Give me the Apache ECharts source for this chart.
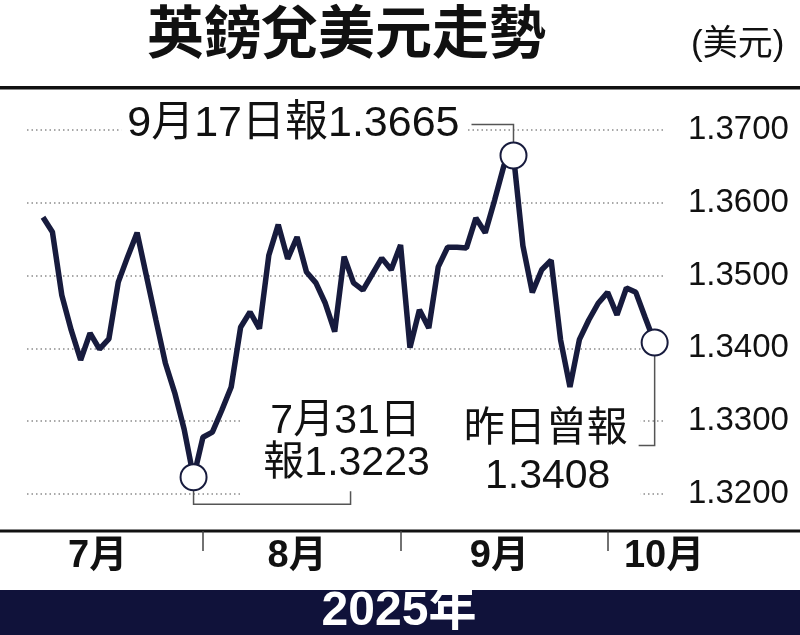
<!DOCTYPE html>
<html><head><meta charset="utf-8">
<script src="https://cdn.jsdelivr.net/npm/echarts@6/dist/echarts.min.js"></script>
<style>html,body{margin:0;padding:0;background:#fff}#c{width:800px;height:635px}</style>
</head><body><div id="c"></div>
<script>
// ---- data ----
const dates = [
 '2025-07-09','2025-07-10','2025-07-11','2025-07-14','2025-07-15','2025-07-16','2025-07-17','2025-07-18',
 '2025-07-21','2025-07-22','2025-07-23','2025-07-24','2025-07-25','2025-07-28','2025-07-29','2025-07-30','2025-07-31',
 '2025-08-01','2025-08-04','2025-08-05','2025-08-06','2025-08-07','2025-08-08','2025-08-11','2025-08-12','2025-08-13',
 '2025-08-14','2025-08-15','2025-08-18','2025-08-19','2025-08-20','2025-08-21','2025-08-22','2025-08-25','2025-08-26',
 '2025-08-27','2025-08-28','2025-08-29',
 '2025-09-01','2025-09-02','2025-09-03','2025-09-04','2025-09-05','2025-09-08','2025-09-09','2025-09-10','2025-09-11',
 '2025-09-12','2025-09-15','2025-09-16','2025-09-17','2025-09-18','2025-09-19','2025-09-22','2025-09-23','2025-09-24',
 '2025-09-25','2025-09-26','2025-09-29','2025-09-30',
 '2025-10-01','2025-10-02','2025-10-03','2025-10-06','2025-10-07','2025-10-08'
];
const gbpusd = [
 1.3580,1.3560,1.3473,1.3425,1.3384,1.3421,1.3399,1.3413,
 1.3491,1.3526,1.3559,1.3499,1.3439,1.3380,1.3339,1.3289,1.3223,
 1.3278,1.3285,1.3315,1.3347,1.3429,1.3450,1.3427,1.3528,1.3570,
 1.3523,1.3553,1.3505,1.3490,1.3462,1.3423,1.3526,1.3490,1.3480,
 1.3502,1.3524,1.3508,
 1.3542,1.3401,1.3453,1.3428,1.3512,1.3539,1.3539,1.3538,1.3579,
 1.3559,1.3604,1.3652,1.3665,1.3541,1.3477,1.3508,1.3521,1.3412,
 1.3347,1.3412,1.3439,1.3462,
 1.3477,1.3446,1.3483,1.3477,1.3442,1.3408
];
const yMin = 1.32, yMax = 1.37, yStep = 0.01;
const monthNames = ['7月','8月','9月','10月'];
const titleText = '英鎊兌美元走勢';
const unitText = '(美元)';
const yearText = '2025年';
const notePeak = {date:'2025-09-17', lines:['9月17日報1.3665']};
const noteLow  = {date:'2025-07-31', lines:['7月31日','報1.3223']};
const noteLast = {date:'2025-10-08', lines:['昨日曾報','1.3408']};

// ---- layout (not data) ----
const monthLabelAt = [5.8, 27, 48.5, 66];
const FONT = '"Liberation Sans","Noto Sans CJK TC",sans-serif';
const NAVY = '#171b3d';

const monthStarts = dates.map((d,i)=> (i>0 && d.slice(5,7)!==dates[i-1].slice(5,7)) ? i : null).filter(v=>v!==null);
const idxOf = d => dates.indexOf(d);

const chart = echarts.init(document.getElementById('c'));
chart.setOption({
  animation:false,
  backgroundColor:'#fff',
  title:[
    {text:titleText,left:147,top:0,padding:0,textStyle:{fontSize:57,lineHeight:62,fontWeight:'bold',fontFamily:'"Noto Sans CJK TC",sans-serif',color:'#111'}},
    {text:unitText,left:691,top:26,padding:0,textStyle:{fontSize:35,lineHeight:38,fontWeight:'normal',fontFamily:FONT,color:'#111'}}
  ],
  grid:{left:27,right:135,top:130,bottom:141},
  xAxis:{
    type:'value',min:-1.7,max:66.1,offset:37,
    axisLine:{show:false},splitLine:{show:false},
    axisTick:{show:true,customValues:monthStarts,length:20,lineStyle:{color:'#444',width:1.5}},
    axisLabel:{customValues:monthLabelAt,margin:6,fontSize:38,lineHeight:40,fontWeight:'bold',color:'#111',fontFamily:FONT,
      formatter:v=>monthNames[monthLabelAt.indexOf(v)]||''}
  },
  yAxis:{
    type:'value',position:'right',min:yMin,max:yMax,interval:yStep,
    axisLine:{show:false},axisTick:{show:false},
    splitLine:{show:true,lineStyle:{type:[1.5,3],color:'#8c8c8c',width:1.5}},
    axisLabel:{margin:23,fontSize:33,color:'#111',fontFamily:FONT,formatter:v=>v.toFixed(4)}
  },
  series:[{
    type:'line',
    data:dates.map((d,i)=>[i,gbpusd[i]]),
    symbol:'none',
    lineStyle:{color:NAVY,width:5.5},
    z:3,
    markPoint:{
      symbol:'circle',symbolSize:26,silent:true,
      itemStyle:{color:'#fff',borderColor:NAVY,borderWidth:2},
      label:{show:false},
      data:[notePeak,noteLow,noteLast].map(n=>{const i=idxOf(n.date);return {coord:[i,gbpusd[i]]};})
    }
  }]
});

// ---- annotations anchored to data points ----
const px = d => { const i = idxOf(d); return chart.convertToPixel({xAxisIndex:0,yAxisIndex:0},[i,gbpusd[i]]); };
const P = px(notePeak.date), T = px(noteLow.date), L = px(noteLast.date);
const gy33 = chart.convertToPixel({yAxisIndex:0}, yMin + yStep);
const gy32 = chart.convertToPixel({yAxisIndex:0}, yMin);
const txt = (s,x,y,align,fs) => ({type:'text',z:10,style:{text:s,x:x,y:y,align:align||'center',verticalAlign:'middle',
  fontSize:fs||41,fontFamily:FONT,fill:'#111',backgroundColor:'#fff',padding:[0,6]}});
const leader = pts => ({type:'polyline',z:4,shape:{points:pts},style:{stroke:'#555',lineWidth:1.5,fill:null}});

chart.setOption({graphic:{elements:[
  {type:'rect',z:-1,shape:{x:0,y:86,width:800,height:3.5},style:{fill:'#111'}},
  {type:'rect',z:-1,shape:{x:0,y:529.5,width:800,height:3},style:{fill:'#111'}},
  {type:'rect',z:-1,shape:{x:0,y:590,width:800,height:45},style:{fill:'#10123a'}},
  {type:'text',z:10,style:{text:yearText,x:399,y:612,align:'center',verticalAlign:'middle',fontSize:48,fontWeight:'bold',fontFamily:FONT,fill:'#fff'}},
  {type:'rect',z:1,shape:{x:T[0]+48,y:gy33-4,width:(L[0]-14)-(T[0]+48),height:gy32-gy33+8},style:{fill:'#fff'}},
  leader([[P[0],P[1]-13],[P[0],P[1]-31],[P[0]-42,P[1]-31]]),
  txt(notePeak.lines[0],P[0]-48,P[1]-31,'right',43),
  leader([[T[0],T[1]+13],[T[0],T[1]+27],[T[0]+157,T[1]+27],[T[0]+157,T[1]+14]]),
  txt(noteLow.lines[0],T[0]+152,T[1]-56),
  txt(noteLow.lines[1],T[0]+153,T[1]-14),
  leader([[L[0],L[1]+13],[L[0],L[1]+103],[L[0]-16,L[1]+103]]),
  txt(noteLast.lines[0],L[0]-109,L[1]+87),
  txt(noteLast.lines[1],L[0]-107,L[1]+134)
]}});
</script></body></html>
